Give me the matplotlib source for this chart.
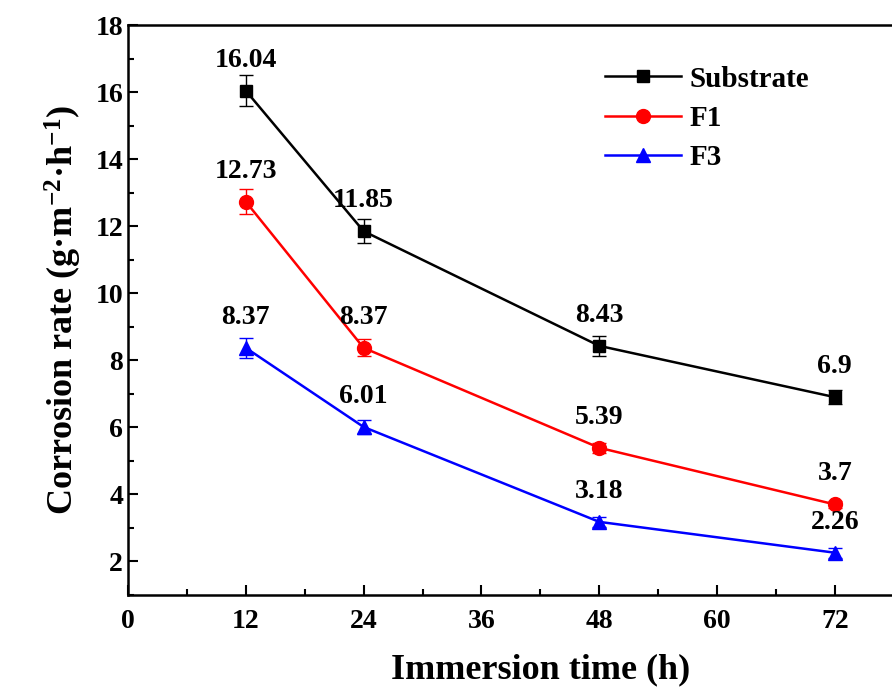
import matplotlib
matplotlib.use('Agg')
import matplotlib.pyplot as plt
from matplotlib.ticker import MultipleLocator, FixedLocator

plt.rcParams['font.family'] = ['Liberation Serif', 'DejaVu Serif']
plt.rcParams['font.weight'] = 'bold'
plt.rcParams['mathtext.fontset'] = 'custom'
plt.rcParams['mathtext.rm'] = 'Liberation Serif:bold'
plt.rcParams['mathtext.bf'] = 'Liberation Serif:bold'
plt.rcParams['mathtext.default'] = 'regular'

time_h = [12, 24, 48, 72]
substrate = [16.04, 11.85, 8.43, 6.9]
substrate_err = [0.47, 0.36, 0.3, 0.2]
f1 = [12.73, 8.37, 5.39, 3.7]
f1_err = [0.37, 0.25, 0.15, 0.1]
f3 = [8.37, 6.01, 3.18, 2.26]
f3_err = [0.3, 0.2, 0.15, 0.15]
x_ticks = [0, 12, 24, 36, 48, 60, 72]

fig = plt.figure(figsize=(8.92, 6.91), dpi=100)
ax = fig.add_axes([0.1435, 0.139, 1.068 - 0.1435, 0.9638 - 0.139])

series = [
    ('Substrate', substrate, substrate_err, 'black', 's', 9),
    ('F1', f1, f1_err, 'red', 'o', 10),
    ('F3', f3, f3_err, 'blue', '^', 10),
]
handles = []
for name, vals, errs, col, mk, ms in series:
    c = ax.errorbar(time_h, vals, yerr=errs, color=col, marker=mk, markersize=ms,
                    linewidth=1.8, elinewidth=1.0, capsize=5, capthick=1.0, label=name)
    handles.append(c[0])
    for x, v in zip(time_h, vals):
        ax.annotate(f'{v:g}', (x, v), xytext=(0, 13), textcoords='offset points',
                    ha='center', va='bottom', fontsize=20, fontweight='bold')

ax.set_xlim(0, 84)
ax.set_ylim(1, 18)
ax.xaxis.set_major_locator(FixedLocator(x_ticks))
ax.xaxis.set_minor_locator(MultipleLocator(6))
ax.yaxis.set_major_locator(MultipleLocator(2))
ax.yaxis.set_minor_locator(MultipleLocator(1))
ax.tick_params(which='both', direction='in', top=False, right=False, labelsize=20, width=1.5)
ax.tick_params(which='major', length=7)
ax.tick_params(which='minor', length=4)
ax.tick_params(axis='x', pad=10)
for s in ax.spines.values():
    s.set_linewidth(1.8)

ax.set_xlabel('Immersion time (h)', fontsize=26, fontweight='bold', labelpad=14)
ax.set_ylabel('Corrosion rate (g·m$^{-2}$·h$^{-1}$)', fontsize=26, fontweight='bold', labelpad=8)

ax.legend(handles, [s[0] for s in series], loc='upper left', bbox_to_anchor=(0.547, 0.975),
          frameon=False, fontsize=21, handlelength=2.6, labelspacing=0.42, handletextpad=0.3)

fig.savefig('out.png', dpi=100)
